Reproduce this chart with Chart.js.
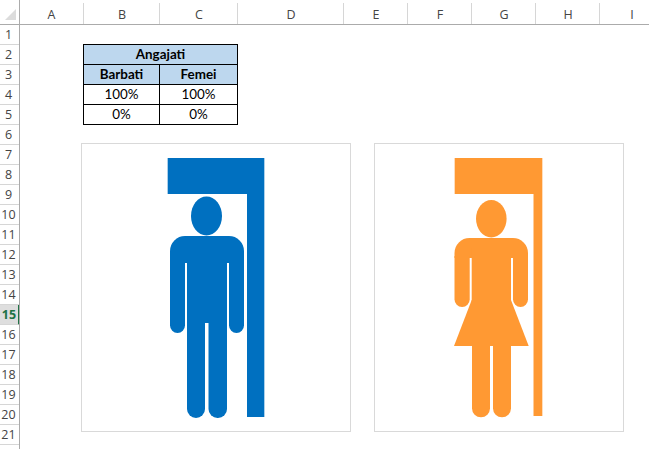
<!DOCTYPE html>
<html lang="ro">
  <head>
    <meta charset="UTF-8" />
    <title>Angajati</title>
    <script src="https://cdn.jsdelivr.net/npm/chart.js"></script>
    <style>
      html, body { margin: 0; padding: 0; background: #fff; overflow: hidden; }
      body { width: 649px; height: 449px; position: relative; }
      .h { position: absolute; font: 12.5px "Open Sans", sans-serif; color: #444; text-align: center; box-sizing: border-box; }
      .col { top: 3px; height: 21px; line-height: 24px; padding-left: 1px; border-right: 1px solid #d6d6d6; }
      .row { left: 0; width: 19px; height: 20px; line-height: 20px; padding-right: 2px; border-bottom: 1px solid #d6d6d6; }
      .row.activ { background: #dedede; color: #217346; font-weight: bold; width: 20px; padding-right: 0; border-right: 2px solid #217346; }
      #linieSus { position: absolute; left: 0; top: 24px; width: 649px; height: 1px; background: #ababab; }
      #linieSt { position: absolute; left: 19px; top: 0; width: 1px; height: 449px; background: #ababab; }
      #colt { position: absolute; left: 5px; top: 9px; width: 0; height: 0; border-left: 11px solid transparent; border-bottom: 11px solid #dcdcdc; }
      table { position: absolute; left: 83px; top: 44px; border-collapse: collapse; table-layout: fixed; width: 155px; font: 13.4px Lato, sans-serif; color: #000; }
      td, th { border: 1px solid #000; height: 19px; padding: 0; text-align: center; line-height: 19px; }
      th { background: #bdd7ee; font-weight: bold; }
      .cadru { position: absolute; top: 143px; height: 289px; box-sizing: border-box; border: 1px solid #d9d9d9; }
      canvas { position: absolute; top: 143px; }
    </style>
  </head>

  <body>
    <div id="antet"></div>
    <div id="colt"></div>
    <div id="linieSus"></div>
    <div id="linieSt"></div>
    <table id="tabel"></table>

    <div class="cadru" style="left: 81px; width: 270px"></div>
    <div class="cadru" style="left: 374px; width: 250px"></div>
    <canvas id="grafic_barbati" width="270" height="289" style="left: 81px"></canvas>
    <canvas id="grafic_femei" width="249" height="289" style="left: 374px"></canvas>

    <script>
      const titlu = "Angajati";
      const categorii = ["Barbati", "Femei"];
      const angajati = [100, 100];
      const rest = [0, 0];

      const coloane = ["A", "B", "C", "D", "E", "F", "G", "H", "I"];
      const randuri = 22;

      // antetul foii (coloane si randuri)
      const marginiCol = [19, 84, 160, 238, 344, 408, 472, 536, 600, 664];
      const antet = document.getElementById("antet");
      coloane.forEach(function (c, i) {
        const d = document.createElement("div");
        d.className = "h col";
        d.style.left = marginiCol[i] + "px";
        d.style.width = marginiCol[i + 1] - marginiCol[i] + "px";
        d.textContent = c;
        antet.appendChild(d);
      });
      for (let r = 1; r <= randuri; r++) {
        const d = document.createElement("div");
        d.className = r == 15 ? "h row activ" : "h row";
        d.style.top = 25 + (r - 1) * 20 + "px";
        if (r < 22) d.textContent = r;
        antet.appendChild(d);
      }

      // tabelul cu date
      document.getElementById("tabel").innerHTML =
        "<colgroup><col style='width:76px'><col style='width:78px'></colgroup>" +
        "<tr><th colspan='2'>" + titlu + "</th></tr>" +
        "<tr><th>" + categorii[0] + "</th><th>" + categorii[1] + "</th></tr>" +
        "<tr><td>" + angajati[0] + "%</td><td>" + angajati[1] + "%</td></tr>" +
        "<tr><td>" + rest[0] + "%</td><td>" + rest[1] + "%</td></tr>";

      function formaJos(ctx, x, y, l, h, r) {
        ctx.beginPath();
        ctx.roundRect(x, y, l, h, [0, 0, r, r]);
        ctx.fill();
      }

      function barbat(ctx, s, t) {
        ctx.beginPath();
        ctx.ellipse(s + 38.5, t + 58, 15.5, 19.5, 0, 0, Math.PI * 2);
        ctx.fill();
        ctx.beginPath();
        ctx.roundRect(s + 2, t + 78, 74, 27, [15, 15, 0, 0]);
        ctx.fill();
        formaJos(ctx, s + 2, t + 100, 15, 75, 7.5);
        formaJos(ctx, s + 61, t + 100, 15, 75, 7.5);
        ctx.fillRect(s + 19, t + 95, 40, 70);
        formaJos(ctx, s + 19, t + 164, 18, 96, 9);
        formaJos(ctx, s + 40.5, t + 164, 18.5, 96, 9);
      }

      function femeie(ctx, s, t) {
        ctx.beginPath();
        ctx.ellipse(s + 36.3, t + 60.7, 15.3, 18.7, 0, 0, Math.PI * 2);
        ctx.fill();
        ctx.beginPath();
        ctx.roundRect(s - 0.5, t + 80, 73.5, 20, [15, 15, 0, 0]);
        ctx.fill();
        formaJos(ctx, s - 0.5, t + 98, 15.2, 51, 7.5);
        formaJos(ctx, s + 58, t + 98, 15, 51, 7.5);
        ctx.fillRect(s + 16.7, t + 90, 39.3, 60);
        ctx.beginPath();
        ctx.moveTo(s + 16.7, t + 142);
        ctx.lineTo(s - 1, t + 188);
        ctx.lineTo(s + 73.7, t + 188);
        ctx.lineTo(s + 56, t + 142);
        ctx.closePath();
        ctx.fill();
        formaJos(ctx, s + 17, t + 187, 18, 72.3, 9);
        formaJos(ctx, s + 38, t + 187, 18, 72.3, 9);
      }

      // decupeaza bara: ramane banda de sus si cea din dreapta, plus silueta
      const siluetaPlugin = {
        id: "silueta",
        afterDatasetsDraw(chart, args, opts) {
          const bar = chart.getDatasetMeta(0).data[0];
          const ctx = chart.ctx;
          const stanga = bar.x - bar.width / 2;
          ctx.save();
          ctx.fillStyle = "#fff";
          ctx.fillRect(stanga - 1, bar.y + 36, opts.latimeGol + 1, bar.base - bar.y - 36 + 1);
          ctx.fillStyle = chart.data.datasets[0].backgroundColor;
          opts.deseneaza(ctx, stanga, bar.y);
          ctx.restore();
        },
      };

      function grafic(id, i, culoare, latimeBara, josLibera, latimeGol, deseneaza) {
        new Chart(document.getElementById(id), {
          type: "bar",
          data: {
            labels: [categorii[i]],
            datasets: [
              { label: "100%", data: [angajati[i]], backgroundColor: culoare, barThickness: latimeBara },
              { label: "0%", data: [rest[i]], backgroundColor: "#ffffff", barThickness: latimeBara },
            ],
          },
          options: {
            responsive: false,
            animation: false,
            layout: { padding: { top: 15, bottom: josLibera, left: 0, right: 0 } },
            scales: {
              x: { stacked: true, display: false },
              y: { stacked: true, display: false, min: 0, max: 100 },
            },
            plugins: {
              legend: { display: false },
              tooltip: { enabled: false },
              silueta: { latimeGol: latimeGol, deseneaza: deseneaza },
            },
          },
          plugins: [siluetaPlugin],
        });
      }

      grafic("grafic_barbati", 0, "#0070c0", 96, 15, 79, barbat);
      grafic("grafic_femei", 1, "#ff9933", 87, 16, 78.5, femeie);
    </script>
  </body>
</html>
